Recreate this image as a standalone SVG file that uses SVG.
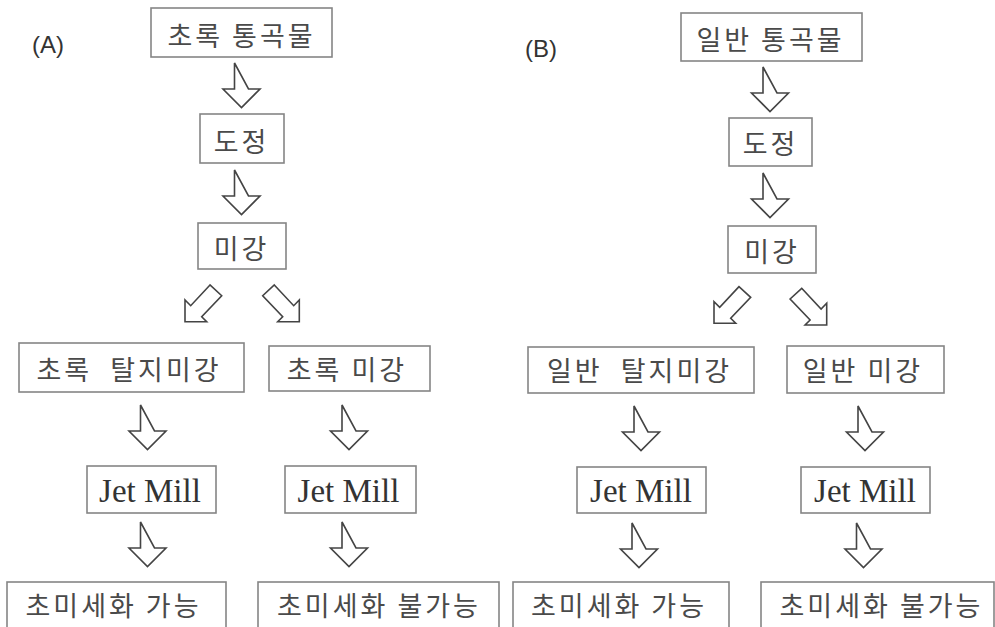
<svg xmlns="http://www.w3.org/2000/svg" xmlns:xlink="http://www.w3.org/1999/xlink" width="995" height="627" viewBox="0 0 995 627">
<style>
.bx{fill:#fff;stroke:#858585;stroke-width:1.6}
.ko{font-family:"Noto Sans CJK KR","Noto Sans",sans-serif;font-size:27px;letter-spacing:3px;fill:#4a4a4a;text-anchor:middle;dominant-baseline:central;white-space:pre}
.en{font-family:"Liberation Serif","Times New Roman",serif;font-size:33px;fill:#333;text-anchor:middle}
.lb{font-family:"Liberation Sans",Arial,sans-serif;font-size:24px;fill:#333}
.ar{fill:#fff;stroke:#444;stroke-width:1.6;stroke-linejoin:miter}
</style>
<defs>
<path id="da" class="ar" d="M-7,0 V26 H-18.5 L0,44.5 L18.5,26 H7 Z"/>
</defs>
<rect width="995" height="627" fill="#fff"/>
<text class="lb" x="32" y="53">(A)</text>
<text class="lb" x="525" y="57">(B)</text>

<g id="connectors">
<use xlink:href="#da" x="241.5" y="63"/>
<use xlink:href="#da" x="241.5" y="170"/>
<polygon class="ar" points="210,285 190.7,305.7 185,300 185,321.7 206.7,321.7 201.7,316.7 221.7,295.7"/>
<polygon class="ar" points="274.3,285 293.7,305.7 299.3,300 299.3,321.7 277.7,321.7 282.7,316.7 262.7,295.7"/>
<use xlink:href="#da" x="147.5" y="405"/>
<use xlink:href="#da" x="147.5" y="522"/>
<use xlink:href="#da" x="349" y="405"/>
<use xlink:href="#da" x="349" y="522"/>
<use xlink:href="#da" x="770" y="67"/>
<use xlink:href="#da" x="770" y="173"/>
<polygon class="ar" points="739,286.6 719.7,307.3 714,301.6 714,323.3 735.7,323.3 730.7,318.3 750.7,297.3"/>
<polygon class="ar" points="801.7,288.3 821.1,309 826.7,303.3 826.7,325 805.1,325 810.1,320 790.1,299"/>
<use xlink:href="#da" x="641" y="406"/>
<use xlink:href="#da" x="639" y="523"/>
<use xlink:href="#da" x="865" y="406"/>
<use xlink:href="#da" x="863.5" y="523"/>
</g>

<g id="a-whole"><rect class="bx" x="151" y="8" width="181" height="49"/><text class="ko" x="241.5" y="34">초록 통곡물</text></g>
<g id="a-dojeong"><rect class="bx" x="200" y="114" width="84" height="49"/><text class="ko" x="241.5" y="140.5">도정</text></g>
<g id="a-migang"><rect class="bx" x="198" y="223" width="88" height="46"/><text class="ko" x="241.5" y="247.5">미강</text></g>
<g id="a-defatted"><rect class="bx" x="19" y="343" width="225" height="49"/><text class="ko" x="129" y="368.5" xml:space="preserve">초록  탈지미강</text></g>
<g id="a-bran"><rect class="bx" x="269" y="346" width="161" height="45"/><text class="ko" x="347" y="368">초록 미강</text></g>
<g id="a-jet1"><rect class="bx" x="87" y="466" width="129" height="47"/><text class="en" x="150" y="502">Jet Mill</text></g>
<g id="a-jet2"><rect class="bx" x="285" y="466" width="131" height="47"/><text class="en" x="348.5" y="502">Jet Mill</text></g>
<g id="a-ok"><rect class="bx" x="7" y="582" width="219" height="60"/><text class="ko" x="113.5" y="604">초미세화 가능</text></g>
<g id="a-no"><rect class="bx" x="258" y="582" width="241" height="60"/><text class="ko" x="379" y="604">초미세화 불가능</text></g>

<g id="b-whole"><rect class="bx" x="681" y="13" width="181" height="48"/><text class="ko" x="770.5" y="38.5">일반 통곡물</text></g>
<g id="b-dojeong"><rect class="bx" x="729" y="118" width="83" height="48"/><text class="ko" x="770.5" y="142.5">도정</text></g>
<g id="b-migang"><rect class="bx" x="728" y="226" width="88" height="47"/><text class="ko" x="772" y="250.5">미강</text></g>
<g id="b-defatted"><rect class="bx" x="528" y="347" width="226" height="46"/><text class="ko" x="639.5" y="369.5" xml:space="preserve">일반  탈지미강</text></g>
<g id="b-bran"><rect class="bx" x="787" y="346" width="157" height="47"/><text class="ko" x="863" y="369.5">일반 미강</text></g>
<g id="b-jet1"><rect class="bx" x="577" y="467" width="129" height="46"/><text class="en" x="641" y="502">Jet Mill</text></g>
<g id="b-jet2"><rect class="bx" x="801" y="467" width="129" height="46"/><text class="en" x="865" y="502">Jet Mill</text></g>
<g id="b-ok"><rect class="bx" x="513" y="582" width="216" height="60"/><text class="ko" x="619" y="604">초미세화 가능</text></g>
<g id="b-no"><rect class="bx" x="761" y="582" width="233" height="60"/><text class="ko" x="881.5" y="604">초미세화 불가능</text></g>
</svg>
